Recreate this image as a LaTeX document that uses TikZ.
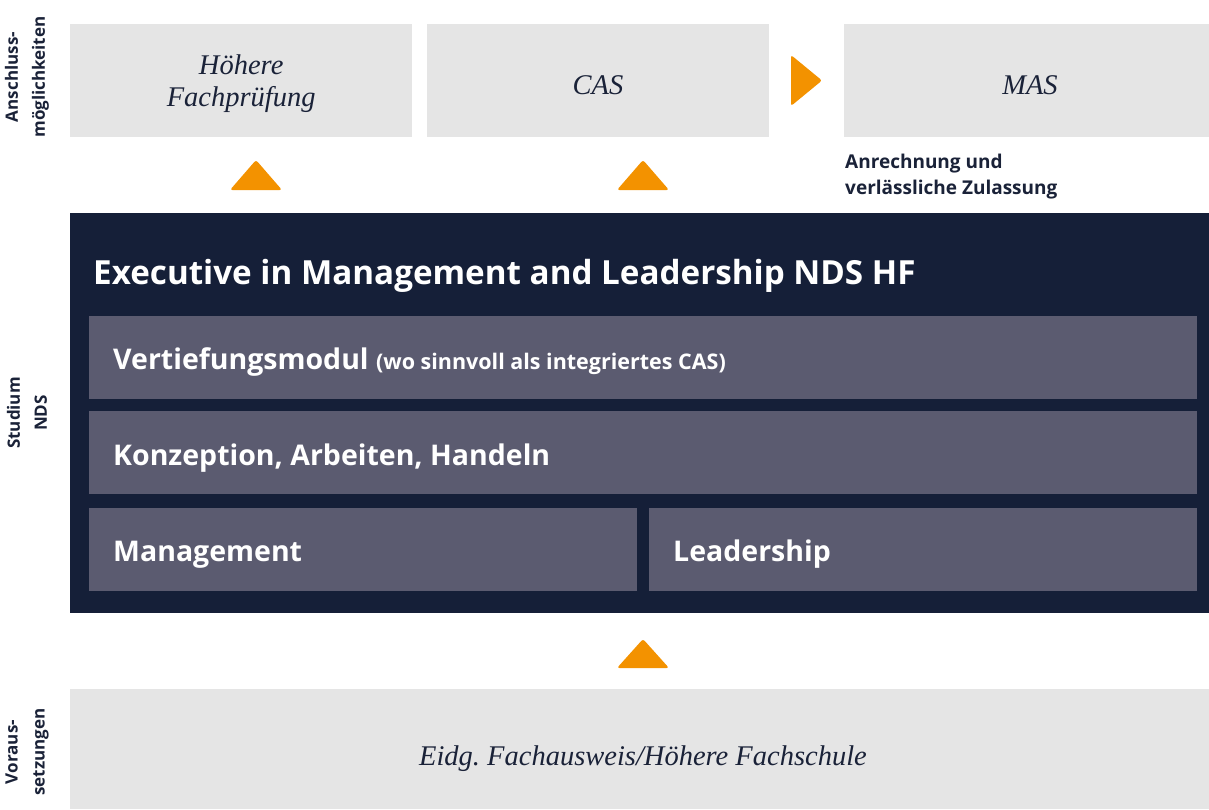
\documentclass[tikz,border=0pt]{standalone}
\usepackage{fontspec}
\setmainfont{Liberation Serif}
\newfontfamily\sans{Open Sans}
\frenchspacing
\definecolor{boxgray}{HTML}{E5E5E5}
\definecolor{navy}{HTML}{151F38}
\definecolor{barcol}{HTML}{5B5B70}
\definecolor{orng}{HTML}{F39200}
\definecolor{txt}{HTML}{1A2238}
\tikzset{
  graybox/.style={fill=boxgray, draw=none, anchor=north west, inner sep=0pt},
  boxtext/.style={inner sep=0pt, text=txt, align=center, font=\itshape\fontsize{28.5}{31.5}\selectfont},
  bar/.style={fill=barcol, draw=none, anchor=north west, inner sep=0pt},
  bartext/.style={anchor=base west, inner sep=0pt, text=white, font=\sans\bfseries\fontsize{28.5}{34}\selectfont},
  sidelabel/.style={rotate=90, align=center, inner sep=0pt, text=txt, font=\sans\bfseries\fontsize{17}{27}\selectfont},
  tri/.style={fill=orng, rounded corners=2.5pt}
}
\begin{document}
\begin{tikzpicture}[x=1pt,y=-1pt]
\useasboundingbox (0,0) rectangle (1209,809);
% top boxes
\node[graybox, minimum width=342pt, minimum height=113pt] (hf) at (70,24) {};
\node[boxtext] (hft) at ([yshift=-3pt]hf.center) {Höhere\\Fachprüfung};
\node[graybox, minimum width=342pt, minimum height=113pt] (cas) at (427,24) {};
\node[boxtext, anchor=base] (cast) at (598,94) {CAS};
\node[graybox, minimum width=365pt, minimum height=113pt] (mas) at (844,24) {};
\node[boxtext, anchor=base] (mast) at (1030,94) {MAS};
\node[anchor=base west, inner sep=0pt, align=left, text=txt, font=\sans\bfseries\fontsize{19}{26}\selectfont] (anr) at (845,168) {Anrechnung und};
\node[anchor=base west, inner sep=0pt, align=left, text=txt, font=\sans\bfseries\fontsize{19}{26}\selectfont] (anr2) at (845,194) {verlässliche Zulassung};
% arrows
\fill[tri] (791,55) -- (822,80.5) -- (791,106) -- cycle;
\fill[tri] (230,190) -- (256,160) -- (282,190) -- cycle;
\fill[tri] (617,190) -- (643,160) -- (669,190) -- cycle;
% main block
\node[fill=navy, anchor=north west, inner sep=0pt, minimum width=1139pt, minimum height=400pt] (nds) at (70,213) {};
\node[anchor=base west, inner sep=0pt, text=white, font=\sans\bfseries\fontsize{33.2}{38}\selectfont] (title) at (93,284) {Executive in Management and Leadership NDS HF};
\node[bar, minimum width=1108pt, minimum height=83pt] (vt) at (89,316) {};
\node[bartext] (vtt) at (113,369) {Vertiefungsmodul {\fontsize{21.5}{24}\selectfont (wo sinnvoll als integriertes CAS)}};
\node[bar, minimum width=1108pt, minimum height=83pt] (kah) at (89,411) {};
\node[bartext] (kaht) at (113,465) {Konzeption, Arbeiten, Handeln};
\node[bar, minimum width=548pt, minimum height=83pt] (mgmt) at (89,508) {};
\node[bartext] (mgmtt) at (113,561) {Management};
\node[bar, minimum width=548pt, minimum height=83pt] (lead) at (649,508) {};
\node[bartext] (leadt) at (673,561) {Leadership};
% bottom arrow
\fill[tri] (617,668) -- (643,639) -- (669,668) -- cycle;
% bottom box
\node[graybox, minimum width=1139pt, minimum height=120pt] (pre) at (70,689) {};
\node[boxtext, anchor=base] (pret) at (643,765) {Eidg. Fachausweis/Höhere Fachschule};
% side labels
\node[sidelabel] (s1) at (27,77) {Anschluss-\\möglichkeiten};
\node[sidelabel] (s2) at (27,413) {Studium\\NDS};
\node[sidelabel] (s3) at (27,752) {Voraus-\\setzungen};
\end{tikzpicture}
\end{document}
